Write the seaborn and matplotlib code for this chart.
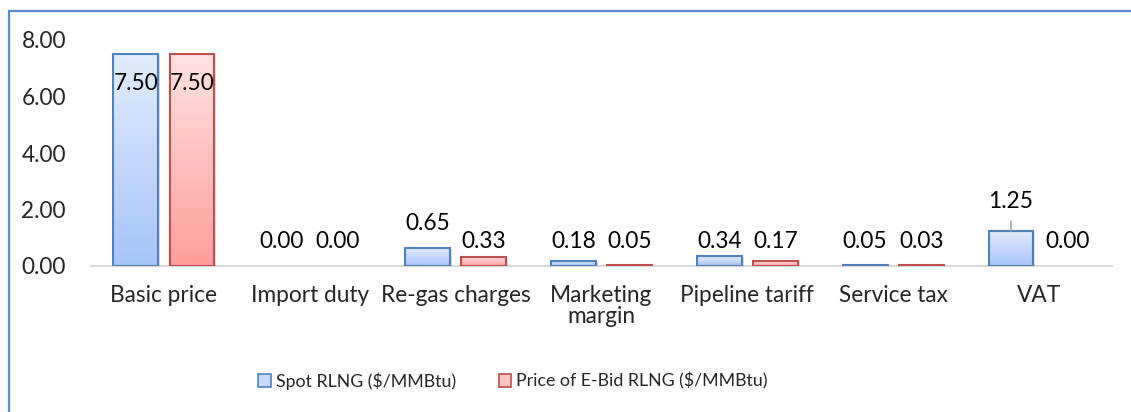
import numpy as np
import pandas as pd
import matplotlib
matplotlib.use("Agg")
import matplotlib.pyplot as plt
import seaborn as sns
from matplotlib.patches import Rectangle, Patch
from matplotlib.colors import LinearSegmentedColormap
from matplotlib.transforms import offset_copy

# Price components of RLNG
categories = ["Basic price", "Import duty", "Re-gas charges", "Marketing\nmargin",
              "Pipeline tariff", "Service tax", "VAT"]
spot_rlng = [7.50, 0.00, 0.65, 0.18, 0.34, 0.05, 1.25]
ebid_rlng = [7.50, 0.00, 0.33, 0.05, 0.17, 0.03, 0.00]
series_names = ["Spot RLNG ($/MMBtu)", "Price of E-Bid RLNG ($/MMBtu)"]
y_ticks = [0, 2, 4, 6, 8]

df = pd.DataFrame({
    "category": categories * 2,
    "value": spot_rlng + ebid_rlng,
    "series": [series_names[0]] * len(categories) + [series_names[1]] * len(categories),
})

# styling
edge_colors = ["#4f81bd", "#c0504d"]
grad_colors = [("#a6c4f8", "#e2ecfd"), ("#ff9d9d", "#ffe2e2")]
mid_colors = ["#c6d9fa", "#ffc4c4"]
FS = 16.3
LEG_FS = 12.8

sns.set_theme(style="white")
plt.rcParams["font.family"] = ["Lato", "DejaVu Sans"]

W, H = 1131, 412
fig = plt.figure(figsize=(W / 100, H / 100), dpi=100)
ax = fig.add_axes([91 / W, 146 / H, (1112 - 91) / W, 226 / H])

sns.barplot(data=df, x="category", y="value", hue="series", order=categories,
            hue_order=series_names, palette=mid_colors, width=0.77, gap=0.2,
            legend=False, ax=ax, errorbar=None)

ax.set_xlim(-0.5, len(categories) - 0.5)
ax.set_ylim(0, 8)

# gradient fills, edges and soft shadows
for k, cont in enumerate(ax.containers):
    cmap = LinearSegmentedColormap.from_list(f"g{k}", grad_colors[k])
    for bar in cont:
        x0, y0 = bar.get_xy()
        w, h = bar.get_width(), bar.get_height()
        bar.set_facecolor("none")
        bar.set_edgecolor(edge_colors[k])
        bar.set_linewidth(1.5)
        bar.set_zorder(3)
        if h <= 0:
            bar.set_visible(False)
            continue
        shadow = Rectangle((x0, y0), w, h,
                           transform=offset_copy(ax.transData, fig, x=2, y=-1, units="dots"),
                           facecolor="black", alpha=0.12, lw=0, zorder=1)
        ax.add_patch(shadow)
        grad = np.linspace(0, 1, 256).reshape(-1, 1)
        im = ax.imshow(grad, cmap=cmap, extent=[x0, x0 + w, y0, y0 + h],
                       origin="lower", aspect="auto", zorder=2, interpolation="bilinear")
        im.set_clip_path(bar)

ax.set_xlim(-0.5, len(categories) - 0.5)
ax.set_ylim(0, 8)

# data labels
label_lift = {(0, 2): 1.49, (0, 6): 2.28}
for k, (cont, vals) in enumerate(zip(ax.containers, [spot_rlng, ebid_rlng])):
    for i, (bar, v) in enumerate(zip(cont, vals)):
        xc = bar.get_x() + bar.get_width() / 2
        if v >= 7:
            y = v - 1.05
        else:
            y = label_lift.get((k, i), max(v + 0.45, 0.87))
        ax.text(xc, y, f"{v:.2f}", ha="center", va="center", fontsize=FS,
                color="black", zorder=5)
        if (k, i) == (0, 6):
            ax.plot([xc, xc], [v, v + 0.35], color="#a6a6a6", lw=1.2, zorder=4)

ax.set_yticks(y_ticks)
ax.set_yticklabels([f"{t:.2f}" for t in y_ticks], fontsize=FS)
ax.set_xlabel("")
ax.set_ylabel("")
ax.tick_params(axis="x", length=0, pad=14, labelsize=FS)
ax.tick_params(axis="y", length=0, pad=18, labelsize=FS)
for lab in ax.get_xticklabels():
    lab.set_linespacing(1.0)
for s in ["top", "right", "left"]:
    ax.spines[s].set_visible(False)
ax.spines["bottom"].set_color("#d9d9d9")
ax.spines["bottom"].set_linewidth(1.5)
ax.spines["bottom"].set_zorder(0.5)
ax.grid(False)

handles = [Patch(facecolor=mid_colors[k], edgecolor=edge_colors[k], linewidth=1.2)
           for k in range(2)]
fig.legend(handles, series_names, loc="center", bbox_to_anchor=(0.4536, 0.075),
           ncol=2, frameon=False, fontsize=LEG_FS, handlelength=0.7, handleheight=0.7,
           handletextpad=0.3, columnspacing=2.4)

# chart frame
frame = Rectangle((8.5 / W, -0.1), 1.2, (H - 10.5) / H + 0.1, transform=fig.transFigure,
                  facecolor="none", edgecolor="#5b8bd0", linewidth=1.6, zorder=10)
fig.patches.append(frame)

fig.savefig("out.png", dpi=100)
